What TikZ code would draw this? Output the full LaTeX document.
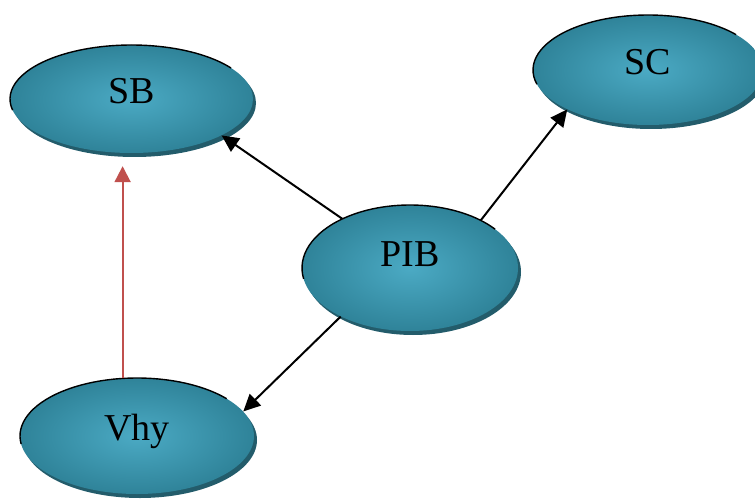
\documentclass[tikz,border=0pt]{standalone}
\usepackage{fontspec}
\setmainfont{Liberation Serif}
\usetikzlibrary{shapes.geometric,arrows.meta,shadows}
\definecolor{tealhi}{HTML}{4BAAC4}
\definecolor{teallo}{HTML}{2F8399}
\definecolor{tealdk}{HTML}{235C6B}
\definecolor{linkred}{HTML}{C0504D}
\tikzset{
  blob/.style={ellipse, inner sep=0pt, shading=radial, inner color=tealhi, outer color=teallo,
    drop shadow={shadow xshift=3pt, shadow yshift=-4pt, fill=tealdk, opacity=1},
    font=\fontsize{38}{42}\selectfont, text height=26pt},
  rim/.style={line width=1.4pt, black},
  link/.style={line width=2pt, black, -{Triangle[length=17pt,width=16pt]}},
  redlink/.style={line width=2pt, linkred, -{Triangle[length=16pt,width=16pt]}},
}
\begin{document}
\begin{tikzpicture}[x=1pt,y=-1pt]
\useasboundingbox (0,0) rectangle (755,500);

% ellipses
\node[blob, minimum width=243pt, minimum height=108pt, text depth=17pt] (SB)  at (131.5,99) {SB};
\node[blob, minimum width=230pt, minimum height=110pt, text depth=16pt] (SC)  at (648,70)   {SC};
\node[blob, minimum width=216pt, minimum height=126pt, text depth=30pt] (PIB) at (410,268)  {PIB};
\node[blob, minimum width=234pt, minimum height=116pt, text depth=18pt] (Vhy) at (137,436)  {Vhy};

% dark rims on the upper left edges
\draw[rim] ([shift={(35:121.5pt and 54pt)}]SB.center) arc[start angle=35, end angle=192, x radius=121.5pt, y radius=54pt];
\draw[rim] ([shift={(40:115pt and 55pt)}]SC.center) arc[start angle=40, end angle=195, x radius=115pt, y radius=55pt];
\draw[rim] ([shift={(38:108pt and 63pt)}]PIB.center) arc[start angle=38, end angle=190, x radius=108pt, y radius=63pt];
\draw[rim] ([shift={(40:117pt and 58pt)}]Vhy.center) arc[start angle=40, end angle=188, x radius=117pt, y radius=58pt];

% connectors
\draw[link] (PIB.144) -- (SB.338);
\draw[link] (PIB.34) -- (SC.206);
\draw[link] (PIB.215) -- (Vhy.13);
\draw[redlink, shorten >=13pt] (Vhy.104) -- (Vhy.104 |- SB.south);
\end{tikzpicture}
\end{document}
